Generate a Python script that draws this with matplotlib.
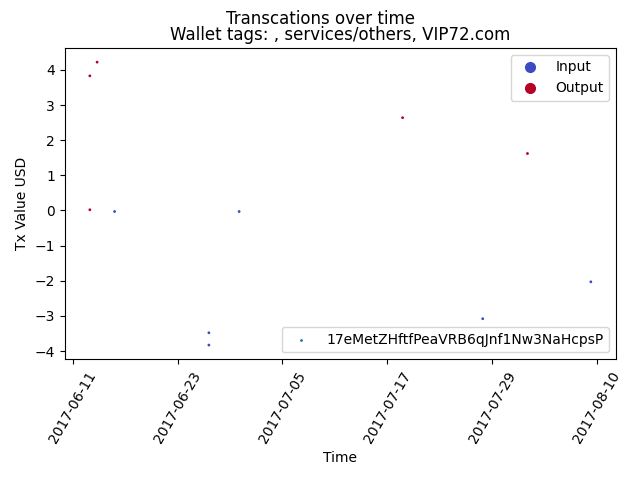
import matplotlib
matplotlib.use("Agg")
import matplotlib.pyplot as plt
import matplotlib.dates as mdates
from matplotlib.lines import Line2D
import pandas as pd

address = "17eMetZHftfPeaVRB6qJnf1Nw3NaHcpsP"
tags = ", services/others, VIP72.com"

times = ["2017-06-12 23:00", "2017-06-13 19:00", "2017-06-12 23:00", "2017-06-15 19:00",
         "2017-06-30 01:00", "2017-06-26 14:00", "2017-06-26 14:00", "2017-07-18 18:00",
         "2017-07-27 22:00", "2017-08-02 01:00", "2017-08-09 07:00"]
values = [3.83, 4.22, 0.02, -0.03, -0.03, -3.48, -3.83, 2.64, -3.08, 1.62, -2.03]
directions = ["Output", "Output", "Output", "Input", "Input", "Input", "Input",
              "Output", "Input", "Output", "Input"]
tick_dates = ["2017-06-11", "2017-06-23", "2017-07-05", "2017-07-17", "2017-07-29", "2017-08-10"]

dir_colors = {"Input": "#3b4cc0", "Output": "#b40426"}

t = pd.to_datetime(times)
cols = [dir_colors[d] for d in directions]

fig, ax = plt.subplots(figsize=(6.4, 4.8), dpi=100)
ax.scatter(t, values, s=1, c=cols)
h_addr = ax.scatter([], [], s=1, color="C0", label=address)

ax.set_title("Wallet tags: " + tags)
ax.set_xlabel("Time")
ax.set_ylabel("Tx Value USD")

ax.set_xticks(pd.to_datetime(tick_dates))
ax.xaxis.set_major_formatter(mdates.DateFormatter("%Y-%m-%d"))
plt.setp(ax.get_xticklabels(), rotation=60)

handles = [Line2D([0], [0], marker="o", linestyle="", color=dir_colors[k], markersize=7, label=k)
           for k in ["Input", "Output"]]
leg1 = ax.legend(handles=handles, loc="upper right")
ax.add_artist(leg1)
ax.legend(handles=[h_addr], loc="lower right")

fig.tight_layout()
fig.subplots_adjust(top=0.9)
fig.suptitle("Transcations over time")
fig.savefig("out.png")
